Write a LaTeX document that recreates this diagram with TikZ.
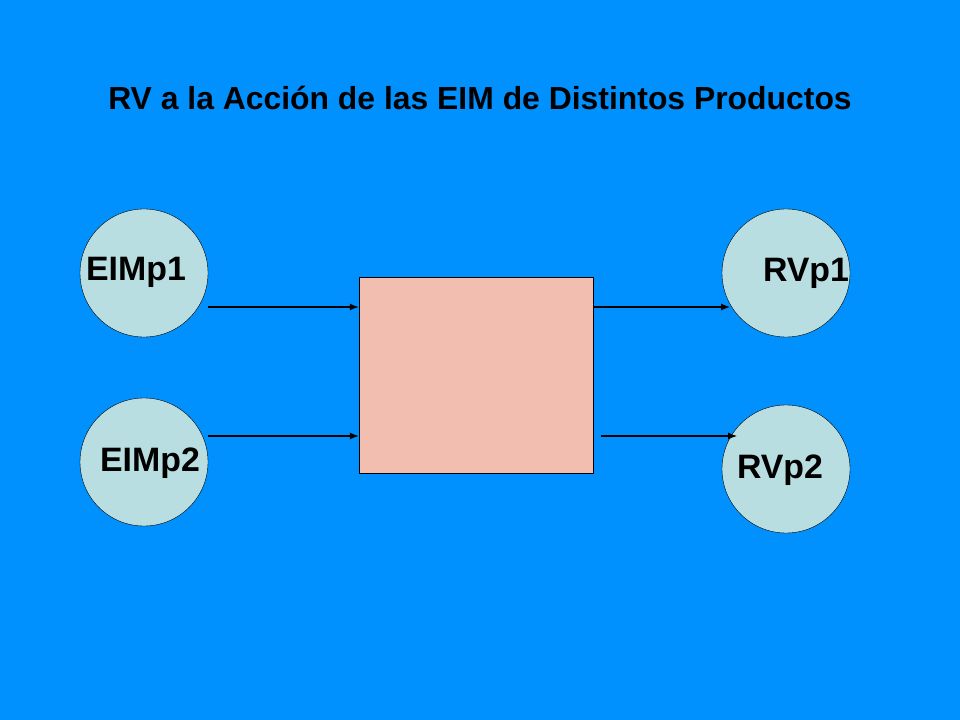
\documentclass[tikz,border=0pt]{standalone}
\usepackage{fontspec}
\setmainfont{Liberation Sans}
\usetikzlibrary{positioning,arrows.meta}

\definecolor{slideblue}{RGB}{0,145,255}
\definecolor{disc}{RGB}{185,222,226}
\definecolor{salmon}{RGB}{242,190,176}

\tikzstyle{var} = [draw=black, fill=disc, circle, minimum size=128bp, inner sep=0]
\tikzstyle{varlabel} = [inner sep=0, font=\bfseries\fontsize{34}{38}\selectfont]
\tikzstyle{blackbox} = [draw=black, fill=salmon, minimum width=234bp, minimum height=196bp, inner sep=0]
\tikzstyle{flow} = [-{Latex[length=9bp,width=7bp]}, draw=black, line width=1.1bp]

\begin{document}
\begin{tikzpicture}[x=1bp,y=-1bp]

%   Slide background
	\fill[slideblue] (0,0) rectangle (960,720);
	\node[font=\bfseries\fontsize{32}{38}\selectfont] (title) at (480,98) {RV a la Acción de las EIM de Distintos Productos};

%   Inputs and outputs
	\node[var] (eim1) at (144,273) {};
	\node[var] (eim2) at (144,462) {};
	\node[var] (rv1) at (786,273) {};
	\node[var] (rv2) at (786,469) {};
	\node[varlabel] (leim1) at (136,272) {EIMp1};
	\node[varlabel] (leim2) at (150,463) {EIMp2};
	\node[varlabel] (lrv1) at (806,273) {RVp1};
	\node[varlabel] (lrv2) at (780,470) {RVp2};

%   System
	\node[blackbox] (sys) at (476,375) {};

%   Arrows
	\coordinate (a1) at (208,307);
	\coordinate (a2) at (208,436);
	\coordinate (b2) at (601,436);
	\coordinate (c1) at (730,307);
	\coordinate (c2) at (737,436);
	\draw[flow] (a1) -- (sys.west |- a1);
	\draw[flow] (a2) -- (sys.west |- a2);
	\draw[flow] (sys.east |- c1) -- (c1);
	\draw[flow] (b2) -- (c2);

\end{tikzpicture}
\end{document}
